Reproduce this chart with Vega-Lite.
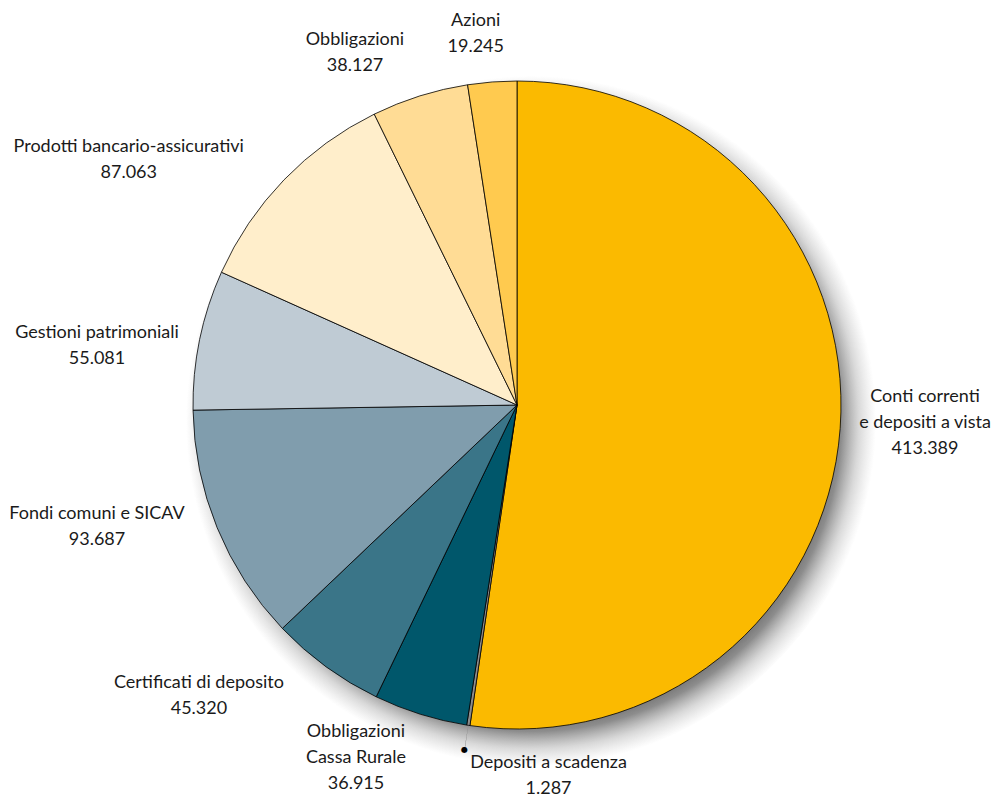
{
  "$schema": "https://vega.github.io/schema/vega-lite/v6.json",
  "width": 954,
  "height": 788,
  "autosize": {"type": "none"},
  "padding": {"left": 40, "top": 11, "right": 0, "bottom": 0},
  "background": "#ffffff",
  "config": {"view": {"stroke": null}},
  "data": {
    "values": [
      {"ordine": 1, "cat": "Conti correnti e depositi a vista", "value": 413.389, "label": ["Conti correnti", "e depositi a vista", "413.389"]},
      {"ordine": 2, "cat": "Depositi a scadenza", "value": 1.287, "label": ["Depositi a scadenza", "1.287"]},
      {"ordine": 3, "cat": "Obbligazioni Cassa Rurale", "value": 36.915, "label": ["Obbligazioni", "Cassa Rurale", "36.915"]},
      {"ordine": 4, "cat": "Certificati di deposito", "value": 45.320, "label": ["Certificati di deposito", "45.320"]},
      {"ordine": 5, "cat": "Fondi comuni e SICAV", "value": 93.687, "label": ["Fondi comuni e SICAV", "93.687"]},
      {"ordine": 6, "cat": "Gestioni patrimoniali", "value": 55.081, "label": ["Gestioni patrimoniali", "55.081"]},
      {"ordine": 7, "cat": "Prodotti bancario-assicurativi", "value": 87.063, "label": ["Prodotti bancario-assicurativi", "87.063"]},
      {"ordine": 8, "cat": "Obbligazioni", "value": 38.127, "label": ["Obbligazioni", "38.127"]},
      {"ordine": 9, "cat": "Azioni", "value": 19.245, "label": ["Azioni", "19.245"]}
    ]
  },
  "layer": [
    {
      "transform": [{"aggregate": [{"op": "sum", "field": "value", "as": "tot"}]}],
      "mark": {
        "type": "arc",
        "radius": 365,
        "fill": {
          "gradient": "radial",
          "x1": 0.5192, "y1": 0.5219, "r1": 0,
          "x2": 0.5192, "y2": 0.5219, "r2": 0.4726,
          "stops": [
            {"offset": 0, "color": "rgba(100,100,100,1)"},
            {"offset": 0.85, "color": "rgba(100,100,100,1)"},
            {"offset": 0.9, "color": "rgba(112,112,112,0.8)"},
            {"offset": 0.95, "color": "rgba(145,145,145,0.35)"},
            {"offset": 1, "color": "rgba(170,170,170,0)"}
          ]
        }
      },
      "encoding": {
        "theta": {"field": "tot", "type": "quantitative"}
      }
    },
    {
      "mark": {"type": "arc", "radius": 324, "stroke": "#000000", "strokeWidth": 0.8},
      "encoding": {
        "theta": {"field": "value", "type": "quantitative", "stack": true},
        "order": {"field": "ordine", "type": "quantitative"},
        "color": {
          "field": "cat",
          "type": "nominal",
          "legend": null,
          "scale": {
            "domain": ["Conti correnti e depositi a vista", "Depositi a scadenza", "Obbligazioni Cassa Rurale", "Certificati di deposito", "Fondi comuni e SICAV", "Gestioni patrimoniali", "Prodotti bancario-assicurativi", "Obbligazioni", "Azioni"],
            "range": ["#FBBA00", "#8C8C8C", "#00576B", "#3A7588", "#809DAD", "#BFCBD4", "#FFEECB", "#FFDC95", "#FFCA4F"]
          }
        }
      }
    },
    {
      "mark": {"type": "arc", "radius": 349, "radius2": 324, "padAngle": 0.007, "fill": "#000000"},
      "encoding": {
        "theta": {"field": "value", "type": "quantitative", "stack": true},
        "order": {"field": "ordine", "type": "quantitative"},
        "fillOpacity": {
          "condition": {"test": "datum.cat === 'Depositi a scadenza'", "value": 1},
          "value": 0
        }
      }
    },
    {
      "transform": [
        {"joinaggregate": [{"op": "sum", "field": "value", "as": "tot"}]},
        {"stack": "value", "groupby": [], "sort": [{"field": "ordine", "order": "ascending"}], "as": ["v0", "v1"]},
        {"filter": "datum.cat !== 'Depositi a scadenza'"}
      ],
      "mark": {
        "type": "text",
        "x": {"expr": "width/2"},
        "y": {"expr": "height/2"},
        "theta": {"expr": "atan2(clamp(540*sin(PI*(datum.v0+datum.v1)/datum.tot),-420,408), 372*(cos(PI*(datum.v0+datum.v1)/datum.tot)<0?-1:1)*pow(abs(cos(PI*(datum.v0+datum.v1)/datum.tot)),1.15))"},
        "radius": {"expr": "sqrt(pow(clamp(540*sin(PI*(datum.v0+datum.v1)/datum.tot),-420,408),2)+pow(372*pow(abs(cos(PI*(datum.v0+datum.v1)/datum.tot)),1.15),2))"},
        "dy": {"expr": "-(length(datum.label)-1)*13"},
        "align": "center",
        "baseline": "middle",
        "font": "Lato",
        "fontSize": 18,
        "lineHeight": 26,
        "color": "#1a1a1a"
      },
      "encoding": {
        "text": {"field": "label"}
      }
    },
    {
      "transform": [
        {"joinaggregate": [{"op": "sum", "field": "value", "as": "tot"}]},
        {"stack": "value", "groupby": [], "sort": [{"field": "ordine", "order": "ascending"}], "as": ["v0", "v1"]},
        {"filter": "datum.cat === 'Depositi a scadenza'"}
      ],
      "mark": {
        "type": "text",
        "x": {"expr": "width/2"},
        "y": {"expr": "height/2"},
        "theta": {"expr": "PI*(datum.v0+datum.v1)/datum.tot"},
        "radius": 349,
        "text": "●",
        "align": "center",
        "baseline": "middle",
        "font": "DejaVu Sans",
        "fontSize": 8,
        "color": "#000000"
      },
      "encoding": {}
    },
    {
      "transform": [
        {"joinaggregate": [{"op": "sum", "field": "value", "as": "tot"}]},
        {"stack": "value", "groupby": [], "sort": [{"field": "ordine", "order": "ascending"}], "as": ["v0", "v1"]},
        {"filter": "datum.cat === 'Depositi a scadenza'"}
      ],
      "mark": {
        "type": "text",
        "x": {"expr": "width/2"},
        "y": {"expr": "height/2"},
        "theta": {"expr": "PI*(datum.v0+datum.v1)/datum.tot"},
        "radius": 349,
        "dx": 84,
        "dy": 13,
        "align": "center",
        "baseline": "middle",
        "font": "Lato",
        "fontSize": 18,
        "lineHeight": 26,
        "color": "#1a1a1a"
      },
      "encoding": {
        "text": {"field": "label"}
      }
    }
  ]
}
